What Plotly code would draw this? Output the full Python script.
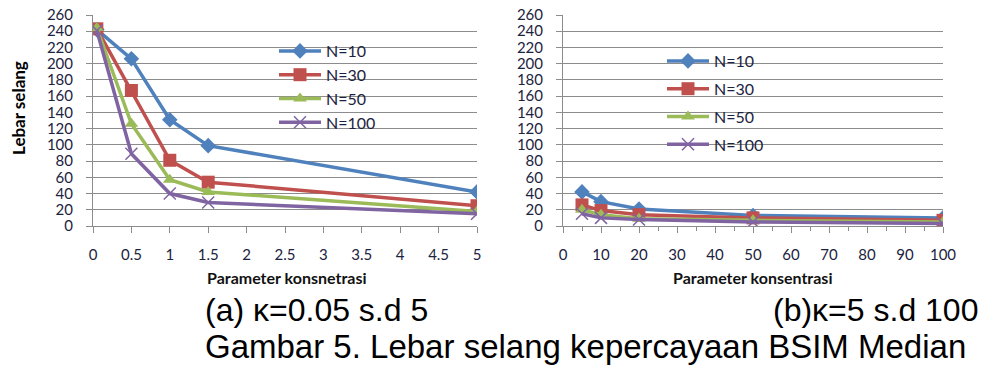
import plotly.graph_objects as go

# ---- data ----
x_left = [0.05, 0.5, 1, 1.5, 5]
left_n10 = [242, 206, 131, 99, 42]
left_n30 = [243, 167, 81, 54, 25]
left_n50 = [244, 126, 57, 42, 18]
left_n100 = [241, 89, 40, 29, 15]

x_right = [5, 10, 20, 50, 100]
right_n10 = [42, 30, 21, 13, 10]
right_n30 = [26, 19, 14, 10, 7]
right_n50 = [20, 14, 9, 7, 5]
right_n100 = [15, 10, 8, 5, 3]

series_names = ["N=10", "N=30", "N=50", "N=100"]
colors = ["#4F81BD", "#C0504D", "#9BBB59", "#8064A2"]
symbols = ["diamond", "square", "triangle-up", "x-thin-open"]
sizes = [12, 13, 12, 12]

W, H = 988, 369

fig = go.Figure()

left_vals = [left_n10, left_n30, left_n50, left_n100]
right_vals = [right_n10, right_n30, right_n50, right_n100]

for i in range(4):
    mk = dict(symbol=symbols[i], size=sizes[i], color=colors[i])
    if symbols[i] == "x-thin-open":
        mk["line"] = dict(color=colors[i], width=1.5)
    fig.add_trace(go.Scatter(x=x_left, y=left_vals[i], name=series_names[i],
                             mode="lines+markers", line=dict(color=colors[i], width=3.5),
                             marker=mk, xaxis="x", yaxis="y", legend="legend",
                             legendgroup="a%d" % i))
for i in range(4):
    mk = dict(symbol=symbols[i], size=sizes[i], color=colors[i])
    if symbols[i] == "x-thin-open":
        mk["line"] = dict(color=colors[i], width=1.5)
    fig.add_trace(go.Scatter(x=x_right, y=right_vals[i], name=series_names[i],
                             mode="lines+markers", line=dict(color=colors[i], width=3.5),
                             marker=mk, xaxis="x2", yaxis="y2", legend="legend2",
                             legendgroup="b%d" % i))

tick_font = dict(family="Lato", size=15, color="#1c2340")
grid = "#8c8c8c"

y0p, y1p = 1 - 226 / H, 1 - 15 / H

axis_common_y = dict(range=[0, 260], dtick=20, showgrid=True, gridcolor=grid, gridwidth=1,
                     showline=True, linecolor=grid, ticks="outside", ticklen=6,
                     tickcolor=grid, tickfont=tick_font, zeroline=False,
                     ticklabelstandoff=10, fixedrange=True, automargin=False)

axis_common_x = dict(showgrid=False, showline=True, linecolor=grid, ticks="outside",
                     ticklen=6, tickcolor=grid, tickfont=tick_font, zeroline=False,
                     automargin=False, ticklabelstandoff=9, fixedrange=True)

fig.update_layout(
    width=W, height=H,
    margin=dict(l=0, r=0, t=0, b=0, autoexpand=False),
    paper_bgcolor="white", plot_bgcolor="white",
    xaxis=dict(domain=[93 / W, 477 / W], range=[0, 5], dtick=0.5, anchor="y",
               **axis_common_x),
    yaxis=dict(domain=[y0p, y1p], anchor="x", **axis_common_y),
    xaxis2=dict(domain=[563 / W, 943 / W], range=[0, 100], dtick=10, anchor="y2",
                minor=dict(dtick=5, ticks="outside", ticklen=4, tickcolor=grid),
                **axis_common_x),
    yaxis2=dict(domain=[y0p, y1p], anchor="x2", **axis_common_y),
    legend=dict(x=274 / W, y=1 - 34 / H, xanchor="left", yanchor="top",
                bgcolor="rgba(0,0,0,0)", font=dict(family="Lato", size=16, color="#1c2340"),
                tracegroupgap=0, itemwidth=42),
    legend2=dict(x=662 / W, y=1 - 44 / H, xanchor="left", yanchor="top",
                 bgcolor="rgba(0,0,0,0)", font=dict(family="Lato", size=16, color="#1c2340"),
                 tracegroupgap=4, itemwidth=42),
    showlegend=True,
)

title_font = dict(family="Lato", size=16, color="#111111", weight="bold")
fig.add_annotation(text="Lebar selang", textangle=-90, xref="paper", yref="paper",
                   x=18 / W, y=1 - 108 / H, xanchor="center", yanchor="middle",
                   showarrow=False, font=dict(family="Lato", size=17, color="#000000", weight="bold"))
fig.add_annotation(text="Parameter konsnetrasi", xref="paper", yref="paper",
                   x=286 / W, y=1 - 277 / H, xanchor="center", yanchor="middle",
                   showarrow=False, font=title_font)
fig.add_annotation(text="Parameter konsentrasi", xref="paper", yref="paper",
                   x=752 / W, y=1 - 277 / H, xanchor="center", yanchor="middle",
                   showarrow=False, font=title_font)

cap_font = dict(family="Liberation Sans", size=32, color="#000000")
fig.add_annotation(text="(a) κ=0.05 s.d 5", xref="paper", yref="paper",
                   x=203 / W, y=1 - 310 / H, xanchor="left", yanchor="middle",
                   showarrow=False, font=cap_font)
fig.add_annotation(text="(b)κ=5 s.d 100", xref="paper", yref="paper",
                   x=980 / W, y=1 - 310 / H, xanchor="right", yanchor="middle",
                   showarrow=False, font=cap_font)
fig.add_annotation(text="Gambar 5. Lebar selang kepercayaan BSIM Median", xref="paper", yref="paper",
                   x=203 / W, y=1 - 346 / H, xanchor="left", yanchor="middle",
                   showarrow=False, font=dict(family="Liberation Sans", size=33, color="#000000"))

fig.write_html("out.html", config={"displayModeBar": False},
               post_script="document.body.style.margin='0';document.body.style.overflow='hidden';")
